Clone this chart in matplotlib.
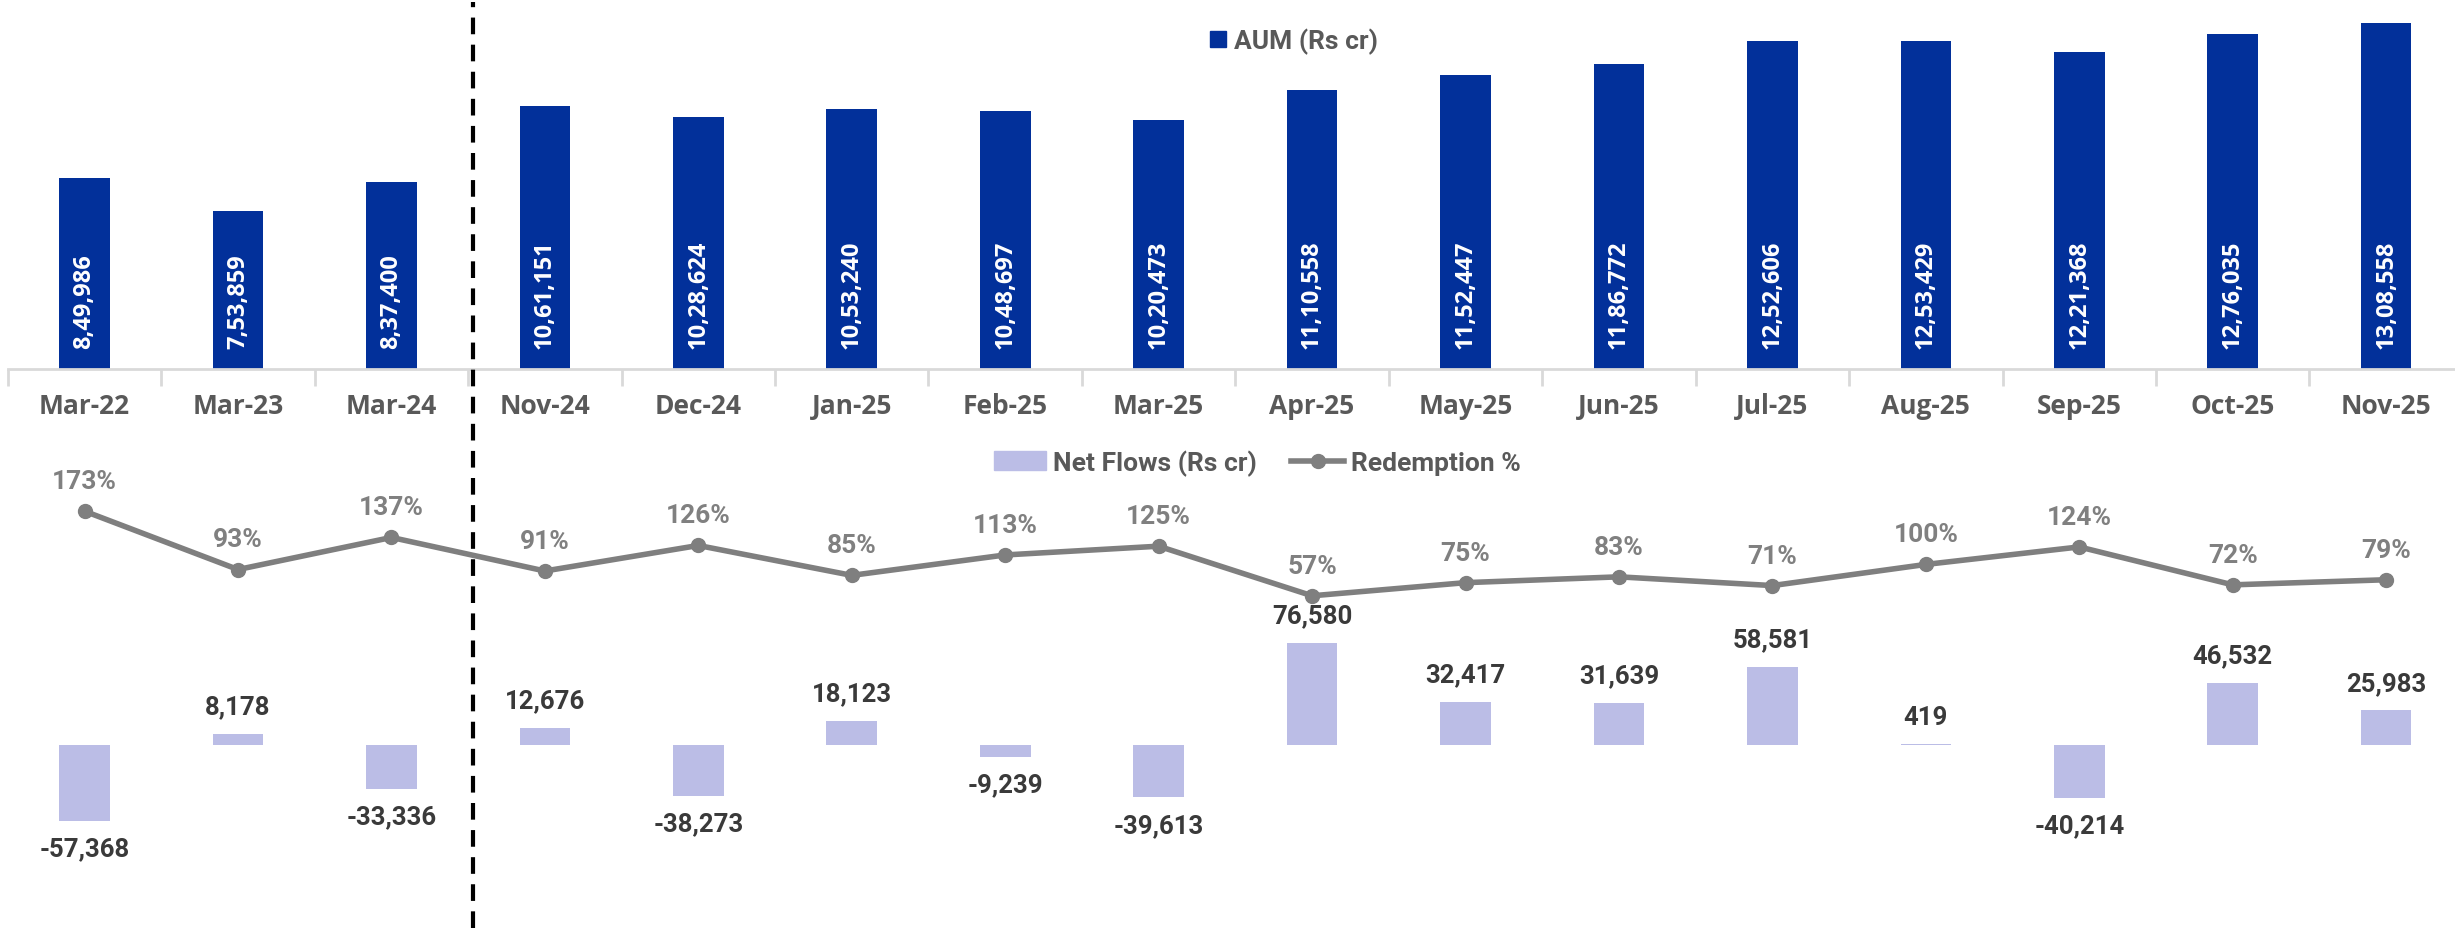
import matplotlib
matplotlib.use("Agg")
import matplotlib.pyplot as plt
from matplotlib.lines import Line2D
from matplotlib.patches import Patch
from matplotlib.transforms import blended_transform_factory

categories = ["Mar-22", "Mar-23", "Mar-24", "Nov-24", "Dec-24", "Jan-25", "Feb-25",
              "Mar-25", "Apr-25", "May-25", "Jun-25", "Jul-25", "Aug-25", "Sep-25",
              "Oct-25", "Nov-25"]
aum = [849986, 753859, 837400, 1061151, 1028624, 1053240, 1048697, 1020473,
       1110558, 1152447, 1186772, 1252606, 1253429, 1221368, 1276035, 1308558]
net_flows = [-57368, 8178, -33336, 12676, -38273, 18123, -9239, -39613,
             76580, 32417, 31639, 58581, 419, -40214, 46532, 25983]
redemption = [173, 93, 137, 91, 126, 85, 113, 125, 57, 75, 83, 71, 100, 124, 72, 79]


def indian(n):
    s = str(abs(int(n)))
    if len(s) > 3:
        head, tail = s[:-3], s[-3:]
        parts = []
        while len(head) > 2:
            parts.insert(0, head[-2:])
            head = head[:-2]
        if head:
            parts.insert(0, head)
        s = ",".join(parts) + "," + tail
    return ("-" if n < 0 else "") + s


def western(n):
    return f"{n:,}"


BLUE = "#02309A"
LAV = "#BBBDE6"
GREY_LINE = "#7F7F7F"
TICK_GREY = "#595959"
DARK = "#3A3A3A"
FONT = ["Open Sans", "DejaVu Sans"]
FONT2 = ["Roboto", "DejaVu Sans"]

fig = plt.figure(figsize=(24.55, 9.29), dpi=100)
x = list(range(len(categories)))
W = 0.33
LEFT, WIDTH = 0.0032, 1.0

# ---------------- top panel: AUM ----------------
ax = fig.add_axes([LEFT, 0.602, WIDTH, 0.398])
ax.bar(x, aum, width=W, color=BLUE, label="AUM (Rs cr)", zorder=2)
ax.set_xlim(-0.5, 15.5)
ax.set_ylim(287000, 1378000)
for s in ["top", "right", "left"]:
    ax.spines[s].set_visible(False)
ax.spines["bottom"].set_color("#D9D9D9")
ax.spines["bottom"].set_linewidth(2)
ax.set_yticks([])
ax.set_xticks([i - 0.5 for i in range(len(categories) + 1)], minor=False)
ax.set_xticklabels([])
ax.tick_params(axis="x", which="major", length=12, width=2, color="#D9D9D9", direction="out")
ax.set_xticks(x, minor=True)
ax.set_xticklabels(categories, minor=True)
ax.tick_params(axis="x", which="minor", length=0, pad=17, labelsize=19, labelcolor=TICK_GREY)
for lab in ax.get_xticklabels(minor=True):
    lab.set_fontweight("bold")
    lab.set_family(FONT)

for xi, v in zip(x, aum):
    ax.annotate(indian(v), xy=(xi, 287000), xytext=(0, 15), textcoords="offset points",
                rotation=90, ha="center", va="bottom", color="white",
                fontsize=17, fontweight="bold", family=FONT)

leg1 = ax.legend(handles=[Patch(color=BLUE, label="AUM (Rs cr)")],
                 loc="center", bbox_to_anchor=(0.527, 0.955),
                 bbox_transform=fig.transFigure, frameon=False,
                 prop={"family": FONT2, "weight": "bold", "size": 19},
                 handlelength=0.6, handleheight=0.6, handletextpad=0.3)
for t in leg1.get_texts():
    t.set_color(TICK_GREY)

# ---------------- bottom panel: net flows + redemption ----------------
ax2 = fig.add_axes([LEFT, 0.0, WIDTH, 0.511])
ax2.bar(x, net_flows, width=W, color=LAV, zorder=2)
ax2.set_xlim(-0.5, 15.5)
ax2.set_ylim(-137647, 218824)
ax2.axis("off")

for xi, v in zip(x, net_flows):
    if v >= 0:
        ax2.annotate(western(v), xy=(xi, v), xytext=(0, 11), textcoords="offset points",
                     ha="center", va="bottom", color=DARK, fontsize=18.5,
                     fontweight="bold", family=FONT2)
    else:
        ax2.annotate(western(v), xy=(xi, v), xytext=(0, -11),
                     textcoords="offset points", ha="center", va="top", color=DARK,
                     fontsize=18.5, fontweight="bold", family=FONT2)

ax3 = ax2.twinx()
ax3.set_position([LEFT, 0.0, WIDTH, 0.511])
ax3.plot(x, redemption, color=GREY_LINE, lw=4, marker="o", markersize=10, zorder=3)
ax3.set_xlim(-0.5, 15.5)
ax3.set_ylim(-398.5, 252.4)
ax3.axis("off")
for xi, p in zip(x, redemption):
    ax3.annotate(f"{p}%", xy=(xi, p), xytext=(0, 13), textcoords="offset points",
                 ha="center", va="bottom", color="#808080", fontsize=19,
                 fontweight="bold", family=FONT2)

handles = [Patch(color=LAV, label="Net Flows (Rs cr)"),
           Line2D([0], [0], color=GREY_LINE, lw=4, marker="o", markersize=10,
                  label="Redemption %")]
leg2 = fig.legend(handles=handles, loc="center", bbox_to_anchor=(0.512, 0.501),
                  frameon=False, ncol=2, prop={"family": FONT2, "weight": "bold", "size": 19},
                  handlelength=2.0, handleheight=0.7, handletextpad=0.25, columnspacing=1.3)
for t in leg2.get_texts():
    t.set_color(TICK_GREY)

# ---------------- dashed divider ----------------
trans = blended_transform_factory(ax.transData, fig.transFigure)
fig.add_artist(Line2D([2.53, 2.53], [0.0, 0.997], transform=trans, color="black",
                      lw=3, linestyle=(0, (4, 2.5)), zorder=10))

fig.savefig("out.png", dpi=100, facecolor="white")
